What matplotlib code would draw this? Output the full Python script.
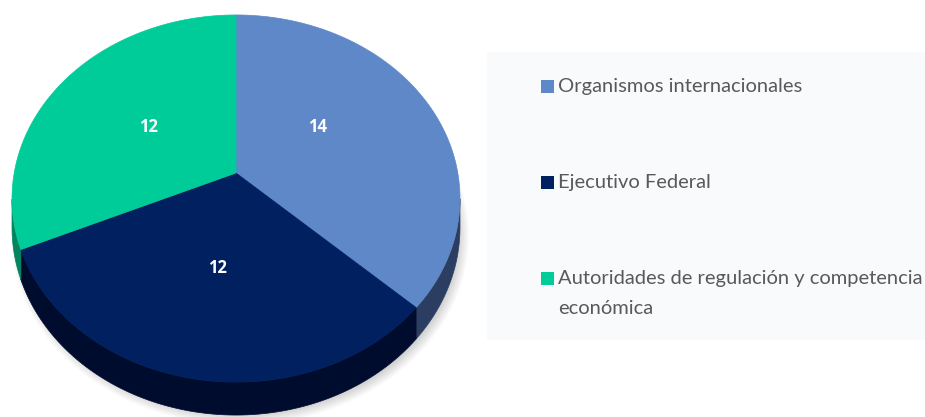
import numpy as np
import matplotlib.pyplot as plt
from matplotlib.patches import Polygon, Ellipse, Rectangle

# data
labels = ["Organismos internacionales", "Ejecutivo Federal",
          "Autoridades de regulación y competencia\neconómica"]
values = [14, 12, 12]
colors = ["#5f88c8", "#00205f", "#00cc99"]
side_colors = ["#2b3d60", "#000c2e", "#00855f"]

# pie geometry in pixels (image coords, y goes down)
# simple perspective: the pie centre sits above the ellipse centre
cx, cy0 = 236, 173
c = 0.139          # perspective strength
sx, sy = 221.8, 180.0
depth = 28.4

fig = plt.figure(figsize=(9.25, 4.17), dpi=100)
ax = fig.add_axes([0, 0, 1, 1])
ax.set_xlim(0, 925)
ax.set_ylim(417, 0)
ax.axis("off")


def pt(t, down=0.0):
    u, v = np.cos(t), np.sin(t)
    w = 1 + c * v
    return cx + sx * u / w, cy0 - sy * v / w + down / w


# soft shadow
for i in range(12):
    e = Ellipse((240, 236), 458 - i * 2, 378 - i * 2,
                color="#000000", alpha=0.016, lw=0, zorder=1)
    ax.add_patch(e)

fracs = np.array(values) / sum(values)
starts = np.pi / 2 - np.concatenate([[0], np.cumsum(fracs)[:-1]]) * 2 * np.pi
ends = starts - fracs * 2 * np.pi

# sides (front part only)
for s, e, sc in zip(starts, ends, side_colors):
    ts = np.linspace(e, s, 500)
    vis = np.sin(ts) < -c
    if not vis.any():
        continue
    tv = ts[vis]
    xs, ys = pt(tv)
    xb, yb = pt(tv, depth)
    poly = np.column_stack([np.concatenate([xs, xb[::-1]]),
                            np.concatenate([ys, yb[::-1]])])
    ax.add_patch(Polygon(poly, closed=True, fc=sc, ec=sc, lw=0.5, zorder=2))

# top faces
for s, e, col in zip(starts, ends, colors):
    ts = np.linspace(s, e, 300)
    xs, ys = pt(ts)
    poly = np.column_stack([np.concatenate([[cx], xs]),
                            np.concatenate([[cy0], ys])])
    ax.add_patch(Polygon(poly, closed=True, fc=col, ec=col, lw=0.5, zorder=3))

# value labels
label_pos = [(318, 127), (217, 268), (148, 127)]
for v, (x, y) in zip(values, label_pos):
    ax.text(x, y, str(v), color="white", fontsize=12, fontweight="bold",
            ha="center", va="center", family="Open Sans", zorder=4)

# legend box
ax.add_patch(Rectangle((487, 52), 445, 288, fc="#f9fafb", ec="none", zorder=1))
leg_y = [86, 182, 278.5]
for lab, col, y in zip(labels, colors, leg_y):
    ax.add_patch(Rectangle((541, y - 6.5), 12.5, 13, fc=col, ec="none", zorder=2))
    for i, line in enumerate(lab.split("\n")):
        ax.text(558, y + i * 30, line, color="#595959", fontsize=14.5,
                family="Lato", ha="left", va="center", zorder=3)

fig.savefig("out.png", dpi=100)
